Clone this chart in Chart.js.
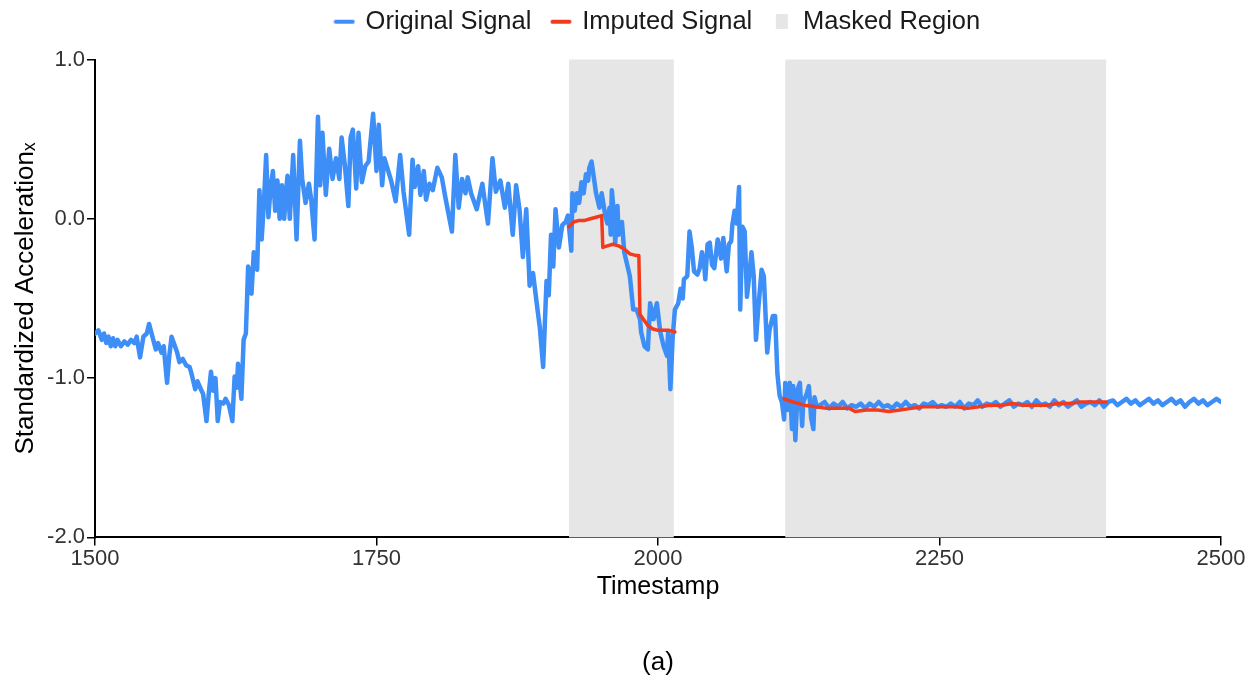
<!DOCTYPE html>
<html>
<head>
<meta charset="utf-8">
<script src="https://cdn.jsdelivr.net/npm/chart.js@4.4.1/dist/chart.umd.min.js"></script>
<style>
  html, body { margin: 0; padding: 0; background: #ffffff; }
  #wrap { width: 1257px; height: 684px; position: relative; }
</style>
</head>
<body>
<div id="wrap"><canvas id="c"></canvas></div>
<script>
// ---------- DATA ----------
const origT = [
  1500,1503,1506,1508,1510,1512,1514,1516,1518,1520,
  1523,1526,1529,1532,1535,1537,1540,1543,1546,1548,
  1551,1554,1556,1559,1561,1564,1566,1568,1571,1573,
  1575,1578,1581,1584,1586,1589,1591,1594,1596,1599,
  1601,1603,1605,1607,1609,1611,1614,1616,1619,1622,
  1624,1626,1627,1630,1632,1634,1636,1638,1639,1641,
  1643,1644,1646,1648,1650,1652,1654,1656,1658,1660,
  1662,1664,1666,1668,1670,1671,1673,1676,1679,1682,
  1684,1687,1690,1692,1695,1698,1700,1702,1705,1708,
  1711,1714,1717,1719,1722,1725,1727,1729,1732,1734,
  1737,1740,1743,1747,1750,1752,1755,1757,1760,1763,
  1767,1771,1774,1779,1782,1784,1787,1789,1792,1794,
  1797,1800,1804,1808,1811,1817,1820,1823,1826,1829,
  1831,1834,1839,1844,1849,1853,1856,1860,1864,1867,
  1871,1874,1877,1880,1883,1886,1889,1893,1895,1898,
  1901,1903,1905,1907,1909,1912,1915,1918,1920,1923,
  1924,1926,1928,1930,1932,1934,1936,1938,1939,1941,
  1943,1945,1948,1950,1953,1955,1957,1958,1959,1961,
  1962,1964,1965,1968,1970,1972,1975,1978,1981,1984,
  1985,1988,1991,1993,1996,1999,2002,2005,2008,2009,
  2011,2013,2015,2018,2020,2022,2023,2026,2028,2030,
  2032,2035,2037,2039,2041,2042,2044,2046,2048,2050,
  2053,2056,2058,2061,2063,2065,2066,2068,2070,2072,
  2073,2075,2077,2079,2081,2083,2085,2087,2089,2092,
  2094,2097,2099,2102,2104,2106,2108,2110,2112,2113,
  2115,2117,2119,2120,2122,2124,2126,2128,2129,2132,
  2134,2136,2138,2139,2141,2144,2148,2152,2156,2160,
  2164,2168,2172,2176,2180,2184,2188,2192,2196,2200,
  2204,2208,2212,2216,2220,2224,2228,2232,2236,2240,
  2244,2248,2252,2256,2260,2264,2268,2272,2276,2280,
  2284,2288,2292,2296,2300,2304,2308,2312,2316,2320,
  2324,2328,2332,2336,2340,2344,2348,2352,2356,2360,
  2364,2368,2372,2376,2380,2384,2388,2392,2396,2400,
  2404,2408,2412,2416,2420,2424,2428,2432,2436,2440,
  2444,2448,2452,2456,2460,2464,2468,2472,2476,2480,
  2484,2488,2492,2496,2500
];
const origV = [
  -0.72,-0.70,-0.76,-0.72,-0.78,-0.74,-0.80,-0.75,-0.80,-0.76,
  -0.80,-0.77,-0.79,-0.76,-0.78,-0.74,-0.87,-0.74,-0.72,-0.66,
  -0.74,-0.82,-0.78,-0.84,-0.80,-1.03,-0.86,-0.74,-0.80,-0.84,
  -0.90,-0.88,-0.92,-0.93,-0.98,-1.07,-1.02,-1.07,-1.10,-1.27,
  -1.10,-0.96,-1.08,-1.00,-1.27,-1.15,-1.16,-1.13,-1.17,-1.27,
  -0.99,-1.06,-0.91,-1.13,-0.76,-0.72,-0.30,-0.36,-0.47,-0.21,
  -0.26,-0.32,0.18,-0.13,0.10,0.40,0.01,0.20,0.30,0.05,
  0.24,0.00,0.21,0.00,0.20,0.27,0.00,0.40,-0.13,0.49,
  0.25,0.10,0.22,0.12,-0.13,0.64,0.21,0.54,0.15,0.44,
  0.25,0.38,0.25,0.51,0.33,0.08,0.51,0.56,0.19,0.54,
  0.23,0.33,0.36,0.66,0.30,0.59,0.21,0.38,0.31,0.24,
  0.11,0.40,0.17,-0.10,0.37,0.20,0.33,0.15,0.30,0.12,
  0.22,0.18,0.32,0.26,0.14,-0.08,0.40,0.07,0.25,0.16,
  0.26,0.16,0.06,0.22,-0.03,0.38,0.17,0.24,0.07,0.22,
  -0.10,0.21,0.06,-0.24,0.06,-0.42,-0.34,-0.57,-0.68,-0.93,
  -0.39,-0.48,-0.10,-0.30,0.06,-0.18,-0.04,-0.02,0.02,-0.20,
  0.16,0.05,0.16,0.10,0.23,0.16,0.28,0.24,0.32,0.36,
  0.26,0.16,0.07,0.16,0.03,-0.03,0.07,-0.10,0.18,0.02,
  -0.15,0.08,-0.10,-0.02,-0.21,-0.27,-0.36,-0.57,-0.57,-0.63,
  -0.71,-0.80,-0.82,-0.53,-0.63,-0.53,-0.71,-0.80,-0.86,-0.71,
  -1.07,-0.75,-0.57,-0.53,-0.44,-0.50,-0.38,-0.36,-0.08,-0.18,
  -0.33,-0.35,-0.31,-0.21,-0.29,-0.38,-0.16,-0.15,-0.29,-0.31,
  -0.13,-0.25,-0.12,-0.33,-0.16,-0.14,-0.04,0.05,-0.03,0.20,
  -0.57,-0.05,-0.08,-0.49,-0.36,-0.21,-0.36,-0.76,-0.57,-0.32,
  -0.36,-0.84,-0.70,-0.61,-0.61,-0.97,-1.11,-1.15,-1.26,-1.03,
  -1.20,-1.03,-1.32,-1.05,-1.39,-1.07,-1.03,-1.30,-1.15,-1.10,
  -1.05,-1.25,-1.32,-1.12,-1.18,-1.17,-1.15,-1.19,-1.16,-1.18,
  -1.15,-1.19,-1.17,-1.18,-1.16,-1.19,-1.16,-1.18,-1.15,-1.18,
  -1.17,-1.19,-1.16,-1.18,-1.15,-1.18,-1.17,-1.19,-1.16,-1.17,
  -1.15,-1.18,-1.17,-1.18,-1.16,-1.18,-1.15,-1.19,-1.16,-1.17,
  -1.14,-1.18,-1.16,-1.17,-1.15,-1.18,-1.16,-1.14,-1.18,-1.16,
  -1.17,-1.15,-1.18,-1.14,-1.17,-1.16,-1.18,-1.14,-1.17,-1.15,
  -1.18,-1.16,-1.14,-1.18,-1.16,-1.15,-1.17,-1.14,-1.18,-1.15,
  -1.14,-1.17,-1.15,-1.13,-1.16,-1.14,-1.17,-1.15,-1.13,-1.16,
  -1.14,-1.17,-1.15,-1.13,-1.16,-1.14,-1.18,-1.15,-1.13,-1.16,
  -1.14,-1.17,-1.15,-1.13,-1.15
];
const impT = [
  1921,1925,1930,1935,1940,1945,1950,1951,1955,1960,1965,1970,1975,1980,1983,1984,1987,1991,1995,2000,2005,2010,2015,
  2060,
  2112,2120,2130,2140,2150,2160,2170,2175,2185,2195,2205,2215,2225,2235,2245,2255,2265,2275,2285,2295,2305,2315,2325,2335,2345,2355,2365,2375,2385,2398
];
const impV = [
  -0.05,-0.02,-0.01,-0.01,0.00,0.01,0.02,-0.18,-0.17,-0.16,-0.17,-0.19,-0.22,-0.23,-0.23,-0.60,-0.63,-0.67,-0.69,-0.70,-0.70,-0.70,-0.71,
  null,
  -1.13,-1.15,-1.17,-1.18,-1.19,-1.19,-1.19,-1.21,-1.20,-1.20,-1.21,-1.20,-1.19,-1.18,-1.18,-1.18,-1.18,-1.19,-1.18,-1.17,-1.17,-1.16,-1.17,-1.17,-1.17,-1.16,-1.16,-1.15,-1.15,-1.15
];
const maskStart = [1921, 2113];
const maskEnd   = [2014, 2398];
const xTicks = [1500, 1750, 2000, 2250, 2500];
const yTicks = [-2, -1, 0, 1];
const seriesNames = ['Original Signal', 'Imputed Signal', 'Masked Region'];

// ---------- STYLE ----------
const BLUE = '#3d8ef6';
const RED = '#f23a1c';
const GRAY = '#e6e6e6';
const FONT = "'Liberation Sans', Arial, Helvetica, sans-serif";
Chart.defaults.font.family = FONT;

function lineMarker(color) {
  const c = document.createElement('canvas');
  c.width = 22; c.height = 8;
  const g = c.getContext('2d');
  g.strokeStyle = color; g.lineWidth = 4; g.lineCap = 'round';
  g.beginPath(); g.moveTo(2.5, 4); g.lineTo(19.5, 4); g.stroke();
  return c;
}
function rectMarker(color) {
  const c = document.createElement('canvas');
  c.width = 14; c.height = 15;
  const g = c.getContext('2d');
  g.fillStyle = color; g.fillRect(1, 0, 12, 15);
  return c;
}

const maskPlugin = {
  id: 'maskRegions',
  beforeDatasetsDraw(chart) {
    const { ctx, chartArea, scales } = chart;
    ctx.save();
    ctx.fillStyle = GRAY;
    for (let i = 0; i < maskStart.length; i++) {
      const x0 = scales.x.getPixelForValue(maskStart[i]);
      const x1 = scales.x.getPixelForValue(maskEnd[i]);
      ctx.fillRect(x0, chartArea.top, x1 - x0, chartArea.bottom - chartArea.top);
    }
    ctx.restore();
  }
};

const origData = origT.map((t, i) => ({ x: t, y: origV[i] }));
const impData = impT.map((t, i) => ({ x: t, y: impV[i] }));

new Chart(document.getElementById('c'), {
  type: 'line',
  data: {
    datasets: [
      { label: seriesNames[0], data: origData, borderColor: BLUE, backgroundColor: BLUE,
        borderWidth: 4.5, pointRadius: 0, tension: 0, borderJoinStyle: 'round', borderCapStyle: 'round',
        order: 1, pointStyle: lineMarker(BLUE) },
      { label: seriesNames[1], data: impData, borderColor: RED, backgroundColor: RED,
        borderWidth: 3.5, pointRadius: 0, tension: 0, spanGaps: false, borderJoinStyle: 'round', borderCapStyle: 'round',
        order: 0, pointStyle: lineMarker(RED) },
      { label: seriesNames[2], data: [], borderColor: GRAY, backgroundColor: GRAY,
        borderWidth: 0, pointRadius: 0, order: 2, pointStyle: rectMarker(GRAY) }
    ]
  },
  options: {
    responsive: true,
    maintainAspectRatio: false,
    animation: false,
    layout: { padding: { left: 10, right: 36, top: -12, bottom: 0 } },
    plugins: {
      legend: {
        display: true, position: 'top', fullSize: false,
        labels: { usePointStyle: true, boxWidth: 17, boxHeight: 14, padding: 21,
                  color: '#1a1a1a', font: { size: 25.5 },
                  sort: (a, b) => a.datasetIndex - b.datasetIndex }
      },
      subtitle: {
        display: true, text: '', position: 'top', weight: 500, fullSize: false,
        font: { size: 1, lineHeight: 1 }, padding: { top: 0, bottom: 14 }
      },
      title: {
        display: true, text: '(a)', position: 'bottom', fullSize: false,
        color: '#000', font: { size: 26, weight: 'normal' }, padding: { top: 45, bottom: 6 }
      },
      tooltip: { enabled: false }
    },
    scales: {
      x: {
        type: 'linear', min: 1500, max: 2500,
        afterBuildTicks: (s) => { s.ticks = xTicks.map(v => ({ value: v })); },
        ticks: { color: '#333', font: { size: 22 }, padding: 0, maxRotation: 0,
                 callback: (v) => String(v) },
        grid: { display: true, drawOnChartArea: false, drawTicks: true, tickLength: 8, color: '#000', lineWidth: 1.5 },
        border: { display: true, color: '#000', width: 2 },
        title: { display: true, text: 'Timestamp', color: '#000', font: { size: 25 }, padding: 0 }
      },
      y: {
        type: 'linear', min: -2, max: 1,
        afterBuildTicks: (s) => { s.ticks = yTicks.map(v => ({ value: v })); },
        afterFit: (s) => { s.width = 85; },
        ticks: { color: '#333', font: { size: 22 }, padding: 2,
                 callback: (v) => Number(v).toFixed(1) },
        grid: { display: true, drawOnChartArea: false, drawTicks: true, tickLength: 8, color: '#000', lineWidth: 1.5 },
        border: { display: true, color: '#000', width: 2 },
        title: { display: true, text: 'Standardized Acceleration\u2093', color: '#000', font: { size: 26 }, padding: 0 }
      }
    }
  },
  plugins: [maskPlugin]
});
</script>
</body>
</html>
